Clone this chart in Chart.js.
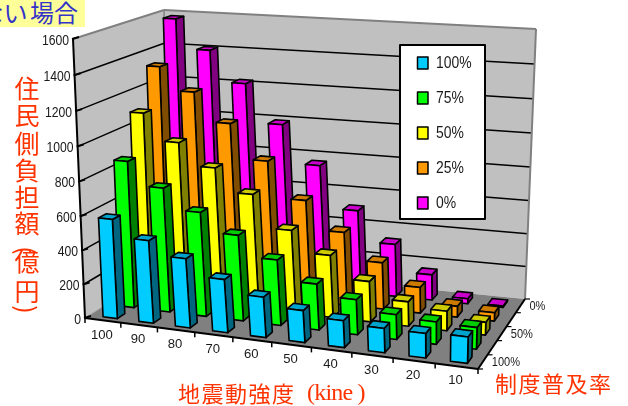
<!DOCTYPE html>
<html lang="ja">

<head>
    <meta charset="UTF-8">
    <title>住民側負担額</title>
    <style>
        body {
            margin: 0;
            background: #fff;
            overflow: hidden;
        }

        #wrap {
            position: relative;
            width: 628px;
            height: 406px;
            overflow: hidden;
        }

        canvas {
            position: absolute;
            left: 0;
            top: 0;
        }

        .note {
            position: absolute;
            font-family: "Noto Sans CJK JP", sans-serif;
            color: #ff3300;
            line-height: 1;
            white-space: nowrap;
        }

        #banner {
            left: 0;
            top: 0;
            width: 85px;
            height: 27px;
            background: #ffff99;
            color: #3333cc;
            font-size: 24px;
            overflow: hidden;
        }

        #banner span {
            position: absolute;
            right: 7px;
            top: 0;
            word-spacing: -3px;
        }

        #yTitle span {
            position: absolute;
            left: 0;
            width: 26px;
            text-align: center;
            font-size: 25px;
        }

        #xTitle,
        #zTitle {
            font-size: 22px;
            letter-spacing: 1.5px;
        }

        #xTitle i {
            position: absolute;
            left: 129px;
            top: -1px;
            font-family: "Liberation Serif", serif;
            font-style: normal;
            letter-spacing: -0.8px;
            font-size: 24px;
        }
    </style>
</head>

<body>
    <div id="wrap">
        <canvas id="chart" width="628" height="406"></canvas>
        <div class="note" id="banner"><span>ない 場合</span></div>
        <div class="note" id="yTitle" style="left:14px;top:0">
            <span style="top:75px">住</span>
            <span style="top:102px">民</span>
            <span style="top:130px">側</span>
            <span style="top:157px">負</span>
            <span style="top:184px">担</span>
            <span style="top:210px">額</span>
            <span style="top:248px">億</span>
            <span style="top:278px">円</span>
            <span style="top:238px;transform:rotate(90deg)">(</span>
            <span style="top:297px;transform:rotate(90deg)">)</span>
        </div>
        <div class="note" id="xTitle" style="left:178px;top:381px">地震動強度<i>(kine )</i></div>
        <div class="note" id="zTitle" style="left:495px;top:371px">制度普及率</div>
    </div>

    <script src="https://cdn.jsdelivr.net/npm/chart.js"></script>
    <script>
        const intensities = ['100', '90', '80', '70', '60', '50', '40', '30', '20', '10'];
        const coverageRates = ['100%', '75%', '50%', '25%', '0%'];
        const yTicks = { min: 0, max: 1600, step: 200 };

        const coverage100 = [585, 485, 405, 310, 235, 185, 155, 140, 140, 150];
        const coverage75 = [870, 735, 615, 505, 385, 270, 205, 145, 130, 125];
        const coverage50 = [1105, 950, 820, 685, 495, 370, 240, 145, 115, 75];
        const coverage25 = [1335, 1200, 1030, 825, 610, 440, 280, 155, 65, 50];
        const coverage0 = [1580, 1405, 1220, 990, 760, 505, 320, 155, 30, 8];

        const faceColors = ['#00ccff', '#00ff00', '#ffff00', '#ff9900', '#ff00ff'];
        const sideColors = ['#006680', '#008000', '#808000', '#804d00', '#800080'];
        const topColors = ['#00a3cc', '#00cc00', '#cccc00', '#cc7a00', '#cc00cc'];

        // box corners of the 3D plot on screen
        const floorQuad = [[85, 318], [478, 369], [525, 299], [170, 264]];
        const ceilQuad = [[73, 39], [488, 74], [536, 29], [164, 10]];

        const BAR_W = 0.04;
        const BAR_D = 0.09;

        // unit square -> quad projective map
        function quadMap(q) {
            const [p0, p1, p2, p3] = q;
            const dx1 = p1[0] - p2[0], dx2 = p3[0] - p2[0], sx = p0[0] - p1[0] + p2[0] - p3[0];
            const dy1 = p1[1] - p2[1], dy2 = p3[1] - p2[1], sy = p0[1] - p1[1] + p2[1] - p3[1];
            const den = dx1 * dy2 - dx2 * dy1;
            const g = (sx * dy2 - dx2 * sy) / den;
            const h = (dx1 * sy - sx * dy1) / den;
            const a = p1[0] - p0[0] + g * p1[0], b = p3[0] - p0[0] + h * p3[0];
            const d = p1[1] - p0[1] + g * p1[1], e = p3[1] - p0[1] + h * p3[1];
            return (u, v) => {
                const w = g * u + h * v + 1;
                return [(a * u + b * v + p0[0]) / w, (d * u + e * v + p0[1]) / w];
            };
        }

        const floorAt = quadMap(floorQuad);
        const ceilAt = quadMap(ceilQuad);

        // small corrections to the foreshortening along each axis
        function project(u, w, h) {
            const uu = u + 0.08 * u * (1 - u);
            const ww = w - 0.12 * w * (1 - w);
            const hh = h - 0.045 * h * (1 - h);
            const f = floorAt(uu, ww);
            const c = ceilAt(uu, ww);
            return [f[0] + (c[0] - f[0]) * hh, f[1] + (c[1] - f[1]) * hh];
        }

        // bars sit a little tighter toward the back of the floor
        function barCenter(u, w) {
            return u + 0.008 * (1 - u) + w * (0.05 * u * (1 - u) - 0.015 * u * u * u);
        }

        function poly(ctx, pts, fill, stroke, lw) {
            ctx.beginPath();
            pts.forEach((p, i) => (i ? ctx.lineTo(p[0], p[1]) : ctx.moveTo(p[0], p[1])));
            ctx.closePath();
            if (fill) {
                ctx.fillStyle = fill;
                ctx.fill();
            }
            if (stroke) {
                ctx.strokeStyle = stroke;
                ctx.lineWidth = lw;
                ctx.stroke();
            }
        }

        function line(ctx, a, b, color, lw) {
            ctx.beginPath();
            ctx.moveTo(a[0], a[1]);
            ctx.lineTo(b[0], b[1]);
            ctx.strokeStyle = color;
            ctx.lineWidth = lw;
            ctx.stroke();
        }

        // squeezed Arial-like labels
        function label(ctx, text, x, y, size, squeeze, align) {
            ctx.save();
            ctx.translate(x, y);
            ctx.scale(squeeze, 1);
            ctx.font = size + 'px "Liberation Sans"';
            ctx.fillStyle = '#1a1a1a';
            ctx.textAlign = align;
            ctx.textBaseline = 'middle';
            ctx.fillText(text, 0, 0);
            ctx.restore();
        }

        function frac(scale, value) {
            return (scale.getPixelForValue(value) - scale.left) / scale.width;
        }

        function drawWalls(ctx, yScale) {
            poly(ctx, [project(0, 0, 0), project(0, 0, 1), project(0, 1, 1), project(0, 1, 0)], '#c0c0c0');
            poly(ctx, [project(0, 1, 0), project(0, 1, 1), project(1, 1, 1), project(1, 1, 0)], '#c0c0c0');

            yScale.ticks.forEach(t => {
                const h = 1 - (yScale.getPixelForValue(t.value) - yScale.top) / yScale.height;
                if (t.value > 0 && t.value < yTicks.max) {
                    line(ctx, project(0, 0, h), project(0, 1, h), '#000', 1.5);
                    line(ctx, project(0, 1, h), project(1, 1, h), '#000', 1.5);
                }
            });

            line(ctx, project(0, 1, 0), project(0, 1, 1), '#808080', 1.5);
            line(ctx, project(0, 0, 1), project(0, 1, 1), '#808080', 2);
            line(ctx, project(0, 1, 1), project(1, 1, 1), '#808080', 2);
            line(ctx, project(1, 1, 1), project(1, 1, 0), '#808080', 2);
        }

        function drawFloor(ctx) {
            poly(ctx, [project(0, 0, 0), project(1, 0, 0), project(1, 1, 0), project(0, 1, 0)], '#808080');
            line(ctx, project(0, 0, 0), project(0, 1, 0), '#a0a0a0', 1);
            line(ctx, project(0, 0, 0), project(1, 0, 0), '#000', 2);
            line(ctx, project(1, 0, 0), project(1, 1, 0), '#000', 2);

            // tick marks between categories
            for (let i = 0; i <= intensities.length; i++) {
                const p = project(i / intensities.length, 0, 0);
                line(ctx, p, [p[0], p[1] + 5], '#000', 1.5);
            }
            for (let i = 0; i <= coverageRates.length; i++) {
                const p = project(1, i / coverageRates.length, 0);
                line(ctx, p, [p[0] + 5, p[1]], '#000', 1.2);
            }
        }

        function drawBar(ctx, u, w, h, i) {
            const c = barCenter(u, w);
            const u0 = c - BAR_W / 2, u1 = c + BAR_W / 2;
            const w0 = w - BAR_D / 2, w1 = w + BAR_D / 2;
            const side = [project(u1, w0, 0), project(u1, w1, 0), project(u1, w1, h), project(u1, w0, h)];
            const top = [project(u0, w0, h), project(u1, w0, h), project(u1, w1, h), project(u0, w1, h)];
            const front = [project(u0, w0, 0), project(u1, w0, 0), project(u1, w0, h), project(u0, w0, h)];
            poly(ctx, side, sideColors[i], '#000', 1.6);
            poly(ctx, top, topColors[i], '#000', 1.6);
            poly(ctx, front, faceColors[i], '#000', 1.6);
        }

        function drawLegend(ctx, datasets) {
            ctx.fillStyle = '#fff';
            ctx.fillRect(400, 45, 85, 174);
            ctx.strokeStyle = '#000';
            ctx.lineWidth = 2;
            ctx.strokeRect(400, 45, 85, 174);
            datasets.forEach((ds, i) => {
                const y = 63 + i * 35;
                ctx.fillStyle = faceColors[i];
                ctx.fillRect(417.5, y - 6, 10.5, 12);
                ctx.lineWidth = 1.5;
                ctx.strokeRect(417.5, y - 6, 10.5, 12);
                label(ctx, ds.label, 436, y + 1, 16, 0.87, 'left');
            });
        }

        const plot3d = {
            id: 'plot3d',
            beforeDatasetsDraw(chart) {
                const ctx = chart.ctx;
                const { x: xScale, y: yScale, depth: zScale } = chart.scales;
                ctx.save();
                ctx.lineJoin = 'round';
                drawWalls(ctx, yScale);
                drawFloor(ctx);

                // back row first so nearer bars cover it
                for (let s = chart.data.datasets.length - 1; s >= 0; s--) {
                    chart.data.datasets[s].data.forEach((v, i) => {
                        const u = frac(xScale, i);
                        const w = frac(zScale, s);
                        const h = 1 - (yScale.getPixelForValue(v) - yScale.top) / yScale.height;
                        drawBar(ctx, u, w, h, s);
                    });
                }

                // value axis
                line(ctx, project(0, 0, 0), project(0, 0, 1), '#000', 2);
                yScale.ticks.forEach(t => {
                    const h = 1 - (yScale.getPixelForValue(t.value) - yScale.top) / yScale.height;
                    const p = project(0, 0, h);
                    line(ctx, [p[0] - 1, p[1]], [p[0] + 6, p[1] - 2], '#000', 2);
                    label(ctx, String(t.value), p[0] - 4, p[1] + 2, 14, 0.87, 'right');
                });

                intensities.forEach((name, i) => {
                    const p = project(frac(xScale, i), 0, 0);
                    label(ctx, name, p[0] - 1, p[1] + 14.5, 13.5, 0.97, 'center');
                });
                coverageRates.forEach((name, i) => {
                    if (i % 2) return;
                    const p = project(1, frac(zScale, i), 0);
                    label(ctx, name, p[0] + 9, p[1] + 1, 13, 0.85, 'left');
                });

                drawLegend(ctx, chart.data.datasets);
                ctx.restore();
                return false;
            }
        };

        const seriesValues = [coverage100, coverage75, coverage50, coverage25, coverage0];

        new Chart(document.getElementById('chart').getContext('2d'), {
            type: 'bar',
            data: {
                labels: intensities,
                datasets: coverageRates.map((name, i) => ({
                    label: name,
                    data: seriesValues[i],
                    backgroundColor: faceColors[i]
                }))
            },
            options: {
                responsive: false,
                animation: false,
                plugins: { legend: { display: false }, tooltip: { enabled: false } },
                scales: {
                    x: { display: false, offset: true },
                    y: { display: false, min: yTicks.min, max: yTicks.max, ticks: { stepSize: yTicks.step } },
                    depth: { type: 'category', axis: 'x', position: 'bottom', display: false, offset: true, labels: coverageRates }
                }
            },
            plugins: [plot3d]
        });
    </script>
</body>

</html>
